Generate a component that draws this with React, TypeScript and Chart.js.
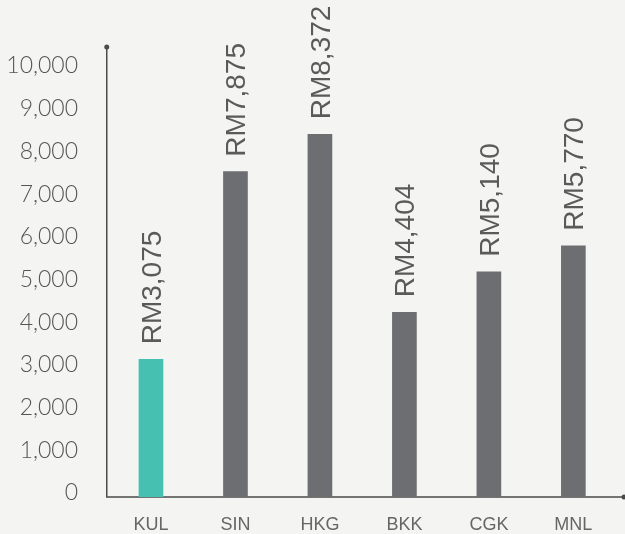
import React, { useEffect, useRef } from "react";
import { Chart, registerables } from "chart.js";

Chart.register(...registerables);

const categories = ["KUL", "SIN", "HKG", "BKK", "CGK", "MNL"];
const barValues = [3225, 7620, 8495, 4325, 5275, 5885];
const valueLabels = ["RM3,075", "RM7,875", "RM8,372", "RM4,404", "RM5,140", "RM5,770"];
const barColors = ["#45c0b1", "#6d6e71", "#6d6e71", "#6d6e71", "#6d6e71", "#6d6e71"];
const yMin = 0;
const yMax = 10000;
const yStep = 1000;

const axisPlugin = {
  id: "customAxes",
  beforeDatasetsDraw(chart: any) {
    const { ctx } = chart;
    const xs = chart.scales.x;
    const ys = chart.scales.y;
    const x0 = xs.left - 2;
    const y0 = ys.getPixelForValue(0);
    ctx.save();
    ctx.strokeStyle = "#4a4a4a";
    ctx.fillStyle = "#4a4a4a";
    ctx.lineWidth = 1.5;
    ctx.beginPath();
    ctx.moveTo(x0, ys.top - 23);
    ctx.lineTo(x0, y0);
    ctx.lineTo(chart.width - 1, y0);
    ctx.stroke();
    ctx.beginPath();
    ctx.arc(x0, ys.top - 23, 2.5, 0, Math.PI * 2);
    ctx.fill();
    ctx.beginPath();
    ctx.arc(chart.width - 1, y0, 2.5, 0, Math.PI * 2);
    ctx.fill();
    ctx.restore();
  },
  afterDatasetsDraw(chart: any) {
    const { ctx } = chart;
    const meta = chart.getDatasetMeta(0);
    ctx.save();
    ctx.fillStyle = "#5a5a5a";
    ctx.font = "28px 'Liberation Sans', Arial, sans-serif";
    ctx.textAlign = "left";
    ctx.textBaseline = "alphabetic";
    meta.data.forEach((bar: any, i: number) => {
      ctx.save();
      ctx.translate(bar.x, bar.y - 15);
      ctx.rotate(-Math.PI / 2);
      ctx.fillText(valueLabels[i], 0, 10);
      ctx.restore();
    });
    ctx.restore();
  },
};

export default function App() {
  const ref = useRef<HTMLCanvasElement | null>(null);
  useEffect(() => {
    if (!ref.current) return;
    const chart = new Chart(ref.current, {
      type: "bar",
      data: {
        labels: categories,
        datasets: [
          {
            data: barValues,
            backgroundColor: barColors,
            borderWidth: 0,
            barThickness: 24,
          },
        ],
      },
      options: {
        responsive: false,
        animation: false,
        layout: { padding: { top: 70, right: 9.4, left: 0, bottom: 0 } },
        plugins: { legend: { display: false }, tooltip: { enabled: false } },
        scales: {
          x: {
            grid: { display: false, drawTicks: false },
            border: { display: false },
            ticks: {
              color: "#666666",
              font: { family: "'Liberation Sans', Arial, sans-serif", size: 18 },
              padding: 17,
            },
            afterFit(scale: any) {
              scale.height = 37;
            },
          },
          y: {
            min: yMin,
            max: yMax,
            grid: { display: false, drawTicks: false },
            border: { display: false },
            ticks: {
              stepSize: yStep,
              color: "#555555",
              font: { family: "Lato, sans-serif", size: 23, weight: "300" },
              padding: 30.7,
              labelOffset: -4,
              callback: (v: any) => Number(v).toLocaleString("en-US"),
            },
            afterFit(scale: any) {
              scale.width = 108.75;
              scale.paddingBottom = 0;
              scale.paddingTop = 0;
            },
          },
        },
      },
      plugins: [axisPlugin],
    });
    return () => chart.destroy();
  }, []);
  return (
    <div
      style={{
        position: "absolute",
        left: 0,
        top: 0,
        width: 625,
        height: 534,
        background: "#f4f4f2",
      }}
    >
      <canvas ref={ref} width={625} height={534} />
    </div>
  );
}
